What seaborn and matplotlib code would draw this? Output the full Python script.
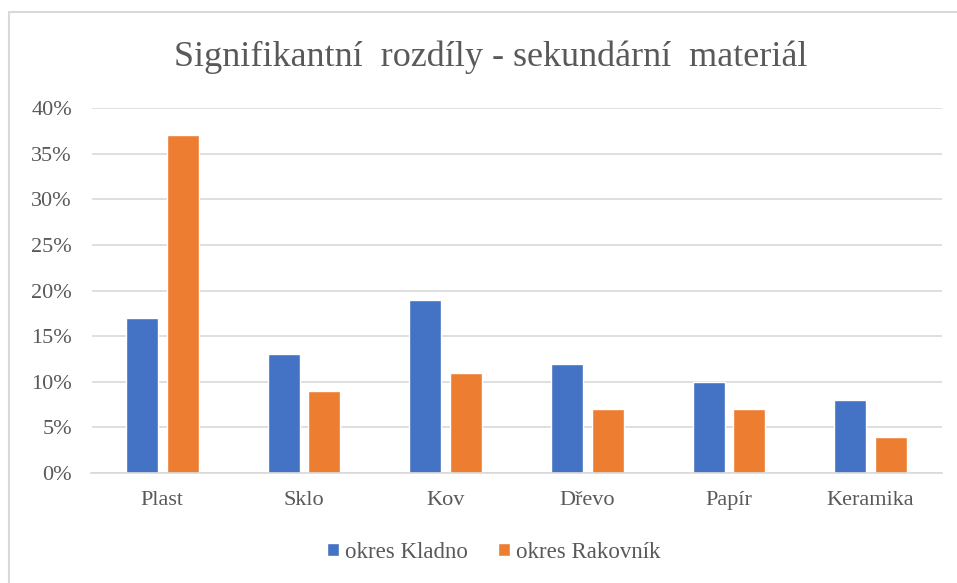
import matplotlib
matplotlib.use("Agg")
import matplotlib.pyplot as plt
import seaborn as sns
import pandas as pd
from matplotlib.ticker import PercentFormatter
from matplotlib.patches import Rectangle

categories = ["Plast", "Sklo", "Kov", "Dřevo", "Papír", "Keramika"]
series_names = ["okres Kladno", "okres Rakovník"]
kladno = [17, 13, 19, 12, 10, 8]
rakovnik = [37, 9, 11, 7, 7, 4]
yticks = [0, 5, 10, 15, 20, 25, 30, 35, 40]

df = pd.DataFrame({
    "cat": categories * 2,
    "series": [series_names[0]] * len(categories) + [series_names[1]] * len(categories),
    "value": kladno + rakovnik,
})

sns.set_theme(style="white")
plt.rcParams["font.family"] = ["Liberation Serif", "DejaVu Serif"]

fig = plt.figure(figsize=(9.57, 5.83), dpi=100)
L, R, T, B = 91.5, 941.5, 108, 473
ax = fig.add_axes([L/957, 1-B/583, (R-L)/957, (B-T)/583])

sns.barplot(data=df, x="cat", y="value", hue="series", order=categories,
            hue_order=series_names, palette=["#4472C4", "#ED7D31"],
            width=0.571, gap=0.21, ax=ax, legend=True, saturation=1)

ax.set_ylim(0, 40)
ax.set_xlim(-0.5, len(categories) - 0.5)
ax.set_yticks(yticks)
ax.yaxis.set_major_formatter(PercentFormatter(decimals=0))
ax.grid(axis="y", color="#D9D9D9", linewidth=1.2)
ax.set_axisbelow(True)
for s in ["left", "right", "top"]:
    ax.spines[s].set_visible(False)
ax.spines["bottom"].set_color("#D9D9D9")
ax.spines["bottom"].set_linewidth(1.2)
ax.set_xlabel("")
ax.set_ylabel("")
ax.tick_params(axis="both", length=0, colors="#595959", labelsize=16)
ax.tick_params(axis="y", pad=14)
ax.tick_params(axis="x", pad=13)

fig.text(491/957, 1-57/583, "Signifikantní  rozdíly - sekundární  materiál",
         ha="center", va="center", fontsize=26, color="#595959")

leg = ax.legend(loc="center", bbox_to_anchor=(494/957, 1-552/583),
                bbox_transform=fig.transFigure, ncol=2, frameon=False,
                fontsize=16.5, handlelength=0.5, handleheight=0.5,
                handletextpad=0.3, columnspacing=1.3, labelcolor="#595959")

fig.patches.append(Rectangle((9/957, -0.1), 1.2, 1-12/583+0.1,
                             transform=fig.transFigure, fill=False,
                             edgecolor="#D9D9D9", linewidth=1.5))

fig.savefig("out.png", dpi=100)
